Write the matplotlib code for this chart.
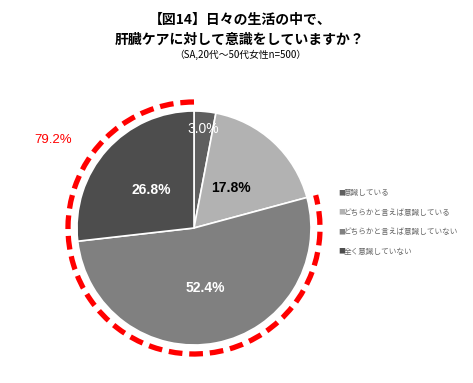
import numpy as np
import matplotlib
matplotlib.use("Agg")
import matplotlib.pyplot as plt
from matplotlib.patches import Arc

plt.rcParams['font.family'] = ['Noto Sans CJK JP', 'DejaVu Sans']

# data
categories = ["意識している", "どちらかと言えば意識している",
              "どちらかと言えば意識していない", "全く意識していない"]
shares = [3.0, 17.8, 52.4, 26.8]
colors = ["#5f5f5f", "#b2b2b2", "#808080", "#4d4d4d"]
label_colors = ["white", "black", "white", "white"]
label_weights = ["normal", "bold", "bold", "bold"]
label_dist = [0.85, 0.47, 0.52, 0.49]
aware_total = "79.2%"

W, H = 473, 383
fig = plt.figure(figsize=(W / 100, H / 100), dpi=100)
ax = fig.add_axes([0, 0, 1, 1])

cx, cy, r = 194, H - 228, 117
wedges, _ = ax.pie(shares, colors=colors, startangle=90, counterclock=False,
                   center=(cx, cy), radius=r, frame=True,
                   wedgeprops=dict(edgecolor="white", linewidth=1.2))

# percentage labels
angle = 90.0
for val, col, wt, d in zip(shares, label_colors, label_weights, label_dist):
    mid = np.deg2rad(angle - val * 3.6 / 2)
    angle -= val * 3.6
    ax.text(cx + d * r * np.cos(mid), cy + d * r * np.sin(mid), f"{val:.1f}%",
            ha="center", va="center", color=col, fontsize=10, fontweight=wt,
            family=["Liberation Sans", "DejaVu Sans"])

# red dashed arc around "aware" share (26.8 + 52.4)
span = (shares[2] + shares[3]) * 3.6
arc = Arc((cx, cy), 2 * 126, 2 * 126, theta1=90, theta2=90 + span,
          color="#ff0000", lw=3.8, linestyle=(0, (2.6, 1.3)))
ax.add_patch(arc)
ax.text(53, H - 140, aware_total, color="#ff0000", fontsize=9.5,
        ha="center", va="center", family=["Liberation Sans", "DejaVu Sans"])

# legend
for i, (cat, col) in enumerate(zip(categories, colors)):
    y = H - (193 + i * 19.5)
    ax.text(338, y, "■", fontsize=5, color=col, va="center")
    ax.text(344, y, cat, fontsize=5.5, color="#666666", va="center")

# title
ax.text(240, H - 20, "【図14】日々の生活の中で、", ha="center", va="center",
        fontsize=10, fontweight="bold")
ax.text(240, H - 40, "肝臓ケアに対して意識をしていますか？", ha="center", va="center",
        fontsize=10, fontweight="bold")
ax.text(240, H - 55, "（SA,20代～50代女性n=500）", ha="center", va="center",
        fontsize=7)

ax.set_xlim(0, W)
ax.set_ylim(0, H)
ax.set_aspect("equal")
ax.axis("off")

fig.savefig("out.png", dpi=100, facecolor="white")
